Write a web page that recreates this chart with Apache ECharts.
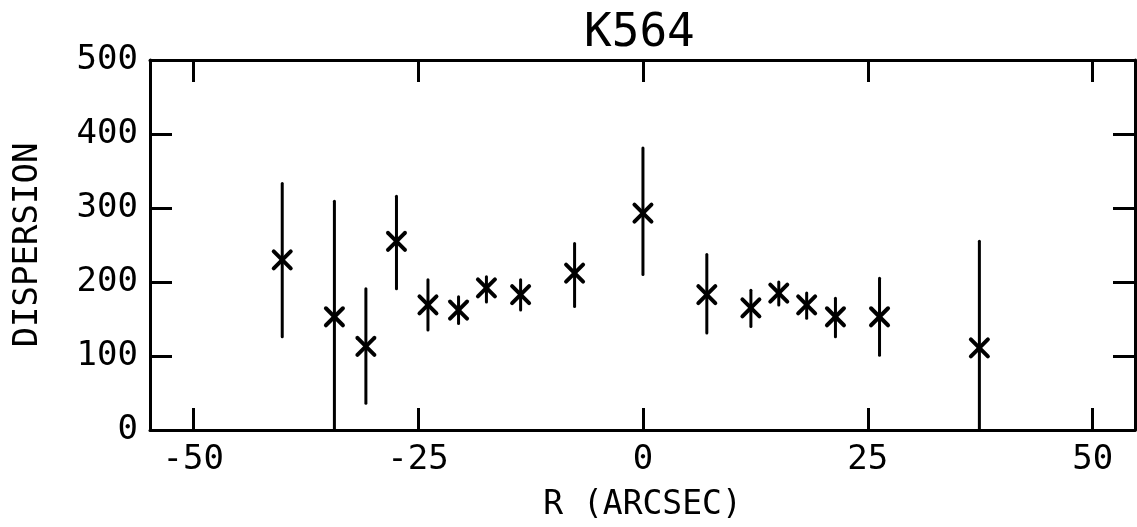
<!DOCTYPE html>
<html>
<head>
<meta charset="utf-8">
<script src="https://cdn.jsdelivr.net/npm/echarts@6/dist/echarts.min.js"></script>
<style>
  html, body { margin: 0; padding: 0; background: #fff; }
  #chart { width: 1137px; height: 527px; }
</style>
</head>
<body>
<div id="chart"></div>
<script>
// radius (arcsec), dispersion and its error bar ends
const rValues = [-40.1, -34.3, -30.8, -27.4, -23.9, -20.5, -17.4, -13.6, -7.6, 0, 7.1, 12.0, 15.1, 18.2, 21.4, 26.3, 37.4];
const dispersion = [230, 153, 113, 255, 169, 162, 192, 183, 212, 293, 183, 165, 185, 169, 153, 153, 111];
const errLow = [126, 0, 36, 191, 135, 144, 173, 162, 167, 210, 131, 140, 169, 151, 126, 101, 0];
const errHigh = [333, 309, 191, 316, 203, 180, 207, 203, 252, 381, 237, 189, 200, 185, 178, 205, 255];
const xTicks = [-50, -25, 0, 25, 50];

const FONT = "DejaVu Sans Mono";
const points = rValues.map((r, i) => [r, dispersion[i], errLow[i], errHigh[i]]);

const chart = echarts.init(document.getElementById("chart"));

const axisLine = { show: true, onZero: false, lineStyle: { color: "#000", width: 3 } };
const tick = { show: true, inside: true, length: 22, lineStyle: { color: "#000", width: 3 } };

const option = {
  animation: false,
  backgroundColor: "#fff",
  title: {
    text: "K564",
    left: 579,
    top: 6,
    textStyle: { fontFamily: FONT, fontSize: 46, fontWeight: "normal", color: "#000" },
  },
  grid: { left: 150, right: 2, top: 60, bottom: 97 },
  xAxis: [
    {
      type: "value",
      min: -54.8,
      max: 54.7,
      position: "bottom",
      axisLine: axisLine,
      axisTick: Object.assign({ customValues: xTicks }, tick),
      axisLabel: {
        customValues: xTicks,
        margin: 13,
        fontFamily: FONT,
        fontSize: 34,
        color: "#000",
      },
      splitLine: { show: false },
      name: "R (ARCSEC)",
      nameLocation: "middle",
      nameGap: 59,
      nameTextStyle: { fontFamily: FONT, fontSize: 33, color: "#000" },
    },
    {
      type: "value",
      min: -54.8,
      max: 54.7,
      position: "top",
      axisLine: axisLine,
      axisTick: Object.assign({ customValues: xTicks }, tick),
      axisLabel: { show: false },
      splitLine: { show: false },
    },
  ],
  yAxis: [
    {
      type: "value",
      min: 0,
      max: 500,
      interval: 100,
      position: "left",
      axisLine: axisLine,
      axisTick: tick,
      axisLabel: { margin: 12, fontFamily: FONT, fontSize: 34, color: "#000" },
      splitLine: { show: false },
      name: "DISPERSION",
      nameLocation: "middle",
      nameGap: 105,
      nameTextStyle: { fontFamily: FONT, fontSize: 34, color: "#000" },
    },
    {
      type: "value",
      min: 0,
      max: 500,
      interval: 100,
      position: "right",
      axisLine: axisLine,
      axisTick: tick,
      axisLabel: { show: false },
      splitLine: { show: false },
    },
  ],
  series: [
    {
      type: "custom",
      xAxisIndex: 0,
      yAxisIndex: 0,
      data: points,
      renderItem: function (params, api) {
        const x = api.value(0);
        const c = api.coord([x, api.value(1)]);
        const lo = api.coord([x, api.value(2)]);
        const hi = api.coord([x, api.value(3)]);
        const s = 8.5;
        const stroke = { stroke: "#000", lineWidth: 4, lineCap: "round" };
        return {
          type: "group",
          children: [
            {
              type: "line",
              shape: { x1: hi[0], y1: hi[1], x2: lo[0], y2: lo[1] },
              style: { stroke: "#000", lineWidth: 3, lineCap: "round" },
            },
            {
              type: "line",
              shape: { x1: c[0] - s, y1: c[1] - s, x2: c[0] + s, y2: c[1] + s },
              style: stroke,
            },
            {
              type: "line",
              shape: { x1: c[0] - s, y1: c[1] + s, x2: c[0] + s, y2: c[1] - s },
              style: stroke,
            },
          ],
        };
      },
    },
  ],
};

chart.setOption(option);
</script>
</body>
</html>
